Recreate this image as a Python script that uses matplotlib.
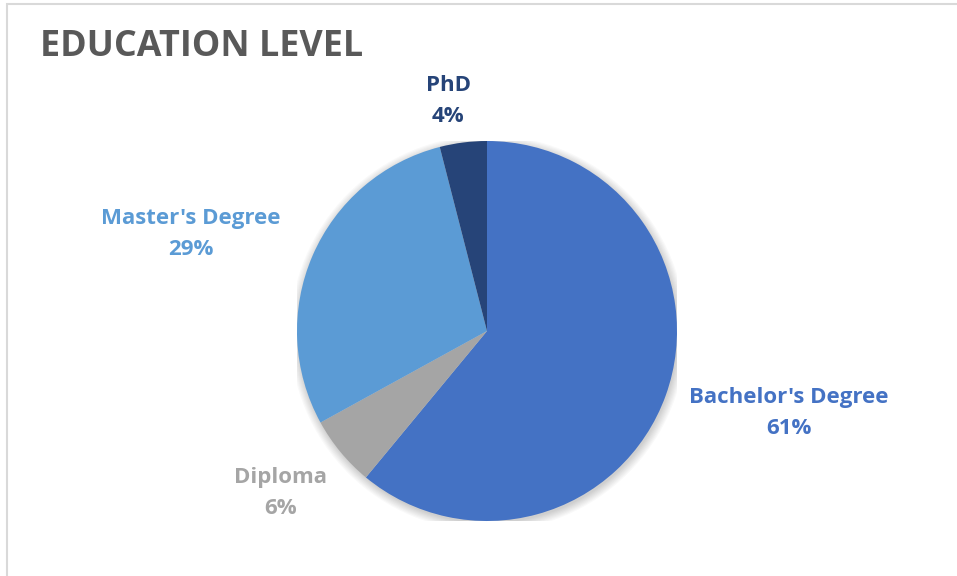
"""
Education level breakdown as a pie chart.
"""

import matplotlib
matplotlib.use("Agg")
import matplotlib.pyplot as plt
from matplotlib.patches import Circle, Rectangle

# Data
categories = ["Bachelor's Degree", "Diploma", "Master's Degree", "PhD"]
shares = [61, 6, 29, 4]

colors = ["#4472C4", "#A5A5A5", "#5B9BD5", "#264478"]
# label centres in pixels (x, y from top)
label_pos = [(789, 413), (281, 493), (191, 234), (448, 101)]

W, H = 957, 576
plt.rcParams["font.family"] = ["Open Sans", "DejaVu Sans"]

fig = plt.figure(figsize=(W / 100, H / 100), dpi=100)

# light frame around the chart area
frame = Rectangle((7 / W, -0.05), 1.2, 1 - 4 / H + 0.05,
                  transform=fig.transFigure, fill=False,
                  edgecolor="#D9D9D9", lw=1.5)
fig.patches.append(frame)

cx, cy, r = 487, 331, 190
ax = fig.add_axes([(cx - r) / W, (H - cy - r) / H, 2 * r / W, 2 * r / H])
ax.set_xlim(-1, 1)
ax.set_ylim(-1, 1)
ax.axis("off")

# soft shadow behind the pie
for i in range(8):
    ax.add_patch(Circle((0.006, -0.012), 1.0 + 0.006 * i,
                        color="black", alpha=0.025, lw=0, zorder=0))

ax.pie(shares, colors=colors, startangle=90, counterclock=False,
       radius=1.0, center=(0, 0), frame=False,
       wedgeprops=dict(lw=0, zorder=1))
ax.set_xlim(-1, 1)
ax.set_ylim(-1, 1)

fig.text(40 / W, 1 - 47 / H, "EDUCATION LEVEL", fontsize=25.8,
         fontweight="bold", color="#595959", ha="left", va="center")

for name, val, col, (x, y) in zip(categories, shares, colors, label_pos):
    fig.text(x / W, 1 - y / H, f"{name}\n{val}%", fontsize=16,
             fontweight="bold", color=col, ha="center", va="center",
             linespacing=1.6)

fig.savefig("out.png", dpi=100, facecolor="white")
